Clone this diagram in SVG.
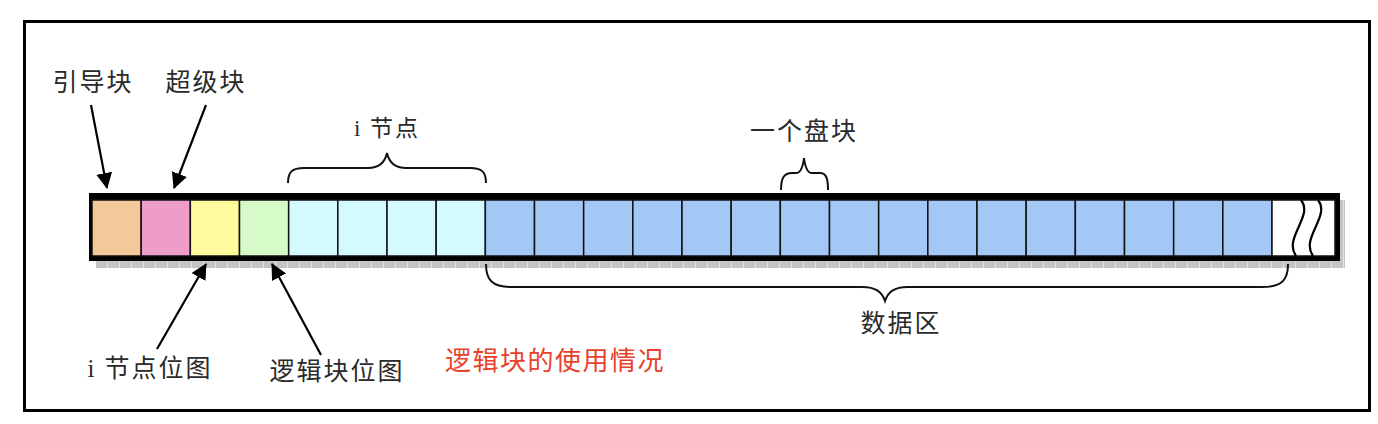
<svg xmlns="http://www.w3.org/2000/svg" width="1378" height="424" viewBox="0 0 1378 424">
<style>
.lbl{font-family:"Liberation Serif","Noto Sans CJK SC",serif;font-size:25px;fill:#2a2a2a;letter-spacing:2px;text-anchor:middle}
.red{font-family:"Noto Sans CJK SC",sans-serif;font-size:26px;fill:#e8402a;letter-spacing:1.5px}
.cell{stroke:#111;stroke-width:1.5}
.brace{fill:none;stroke:#111;stroke-width:2}
.arr{stroke:#000;stroke-width:2.2;fill:none}
.o{fill:#f4c898}.p{fill:#ee9dc8}.y{fill:#fffa9b}.g{fill:#d6fac8}.c{fill:#d2faff}.b{fill:#a3c8f5}
</style>
<defs>
<marker id="ah" markerWidth="16" markerHeight="18" refX="15" refY="8" orient="auto" markerUnits="userSpaceOnUse">
<path d="M0,0 L16,8 L0,16 z" fill="#000"/>
</marker>
<pattern id="tick" width="12" height="7" patternUnits="userSpaceOnUse">
<rect width="12" height="7" fill="#c4c4c4"/>
<rect x="11" width="1" height="7" fill="#e4e4e4"/>
</pattern>
</defs>
<rect width="1378" height="424" fill="#fff"/>
<rect x="24.5" y="21.5" width="1345" height="389" fill="none" stroke="#000" stroke-width="3"/>

<g id="bar">
<rect x="96" y="261" width="1249" height="7" fill="url(#tick)"/>
<rect x="1340" y="200" width="5" height="68" fill="url(#tick)"/>
<rect x="89" y="193" width="1251" height="68" fill="#000"/>
<g id="cells">
<rect class="cell o" x="92" y="200" width="49.17" height="56"/>
<rect class="cell p" x="141.17" y="200" width="49.17" height="56"/>
<rect class="cell y" x="190.33" y="200" width="49.17" height="56"/>
<rect class="cell g" x="239.5" y="200" width="49.17" height="56"/>
<rect class="cell c" x="288.67" y="200" width="49.17" height="56"/>
<rect class="cell c" x="337.83" y="200" width="49.17" height="56"/>
<rect class="cell c" x="387" y="200" width="49.17" height="56"/>
<rect class="cell c" x="436.17" y="200" width="49.17" height="56"/>
<rect class="cell b" x="485.33" y="200" width="49.17" height="56"/>
<rect class="cell b" x="534.5" y="200" width="49.17" height="56"/>
<rect class="cell b" x="583.67" y="200" width="49.17" height="56"/>
<rect class="cell b" x="632.83" y="200" width="49.17" height="56"/>
<rect class="cell b" x="682" y="200" width="49.17" height="56"/>
<rect class="cell b" x="731.17" y="200" width="49.17" height="56"/>
<rect class="cell b" x="780.33" y="200" width="49.17" height="56"/>
<rect class="cell b" x="829.5" y="200" width="49.17" height="56"/>
<rect class="cell b" x="878.67" y="200" width="49.17" height="56"/>
<rect class="cell b" x="927.83" y="200" width="49.17" height="56"/>
<rect class="cell b" x="977" y="200" width="49.17" height="56"/>
<rect class="cell b" x="1026.17" y="200" width="49.17" height="56"/>
<rect class="cell b" x="1075.33" y="200" width="49.17" height="56"/>
<rect class="cell b" x="1124.5" y="200" width="49.17" height="56"/>
<rect class="cell b" x="1173.67" y="200" width="49.17" height="56"/>
<rect class="cell b" x="1222.83" y="200" width="49.17" height="56"/>
<rect class="cell" x="1272" y="200" width="63" height="56" fill="#fff"/>
</g>
<path d="M1301,200 C1314,216 1283,238 1296,256" fill="none" stroke="#000" stroke-width="2.2"/>
<path d="M1318,200 C1331,216 1300,238 1313,256" fill="none" stroke="#000" stroke-width="2.2"/>
</g>

<g id="connectors">
<line class="arr" x1="91" y1="105" x2="107" y2="188" marker-end="url(#ah)"/>
<line class="arr" x1="206" y1="105" x2="174" y2="188" marker-end="url(#ah)"/>
<line class="arr" x1="157" y1="349" x2="206" y2="264" marker-end="url(#ah)"/>
<line class="arr" x1="321" y1="355" x2="272" y2="264" marker-end="url(#ah)"/>
<path class="brace" d="M288,183 C288,172 292,168 304,168 L368,168 C380,168 385,162 387,153 C389,162 394,168 406,168 L470,168 C482,168 486,172 486,183"/>
<path class="brace" d="M781,190 C781,178 784,173 792,173 L796,173 C801,173 803,166 804,158 C805,166 807,173 812,173 L820,173 C826,173 828,178 828,190"/>
<path class="brace" d="M486,264 C486,280 492,287 512,287 L862,287 C876,287 882,292 885,301 C888,292 894,287 908,287 L1262,287 C1282,287 1288,280 1288,264"/>
</g>

<g id="labels">
<text class="lbl" x="93" y="91">引导块</text>
<text class="lbl" x="206" y="91">超级块</text>
<text class="lbl" x="387" y="136" style="font-size:23px">i 节点</text>
<text class="lbl" x="804" y="140">一个盘块</text>
<text class="lbl" x="901" y="332">数据区</text>
<text class="lbl" x="150" y="377">i 节点位图</text>
<text class="lbl" x="337" y="380">逻辑块位图</text>
<text class="red" x="445" y="370">逻辑块的使用情况</text>
</g>
</svg>
